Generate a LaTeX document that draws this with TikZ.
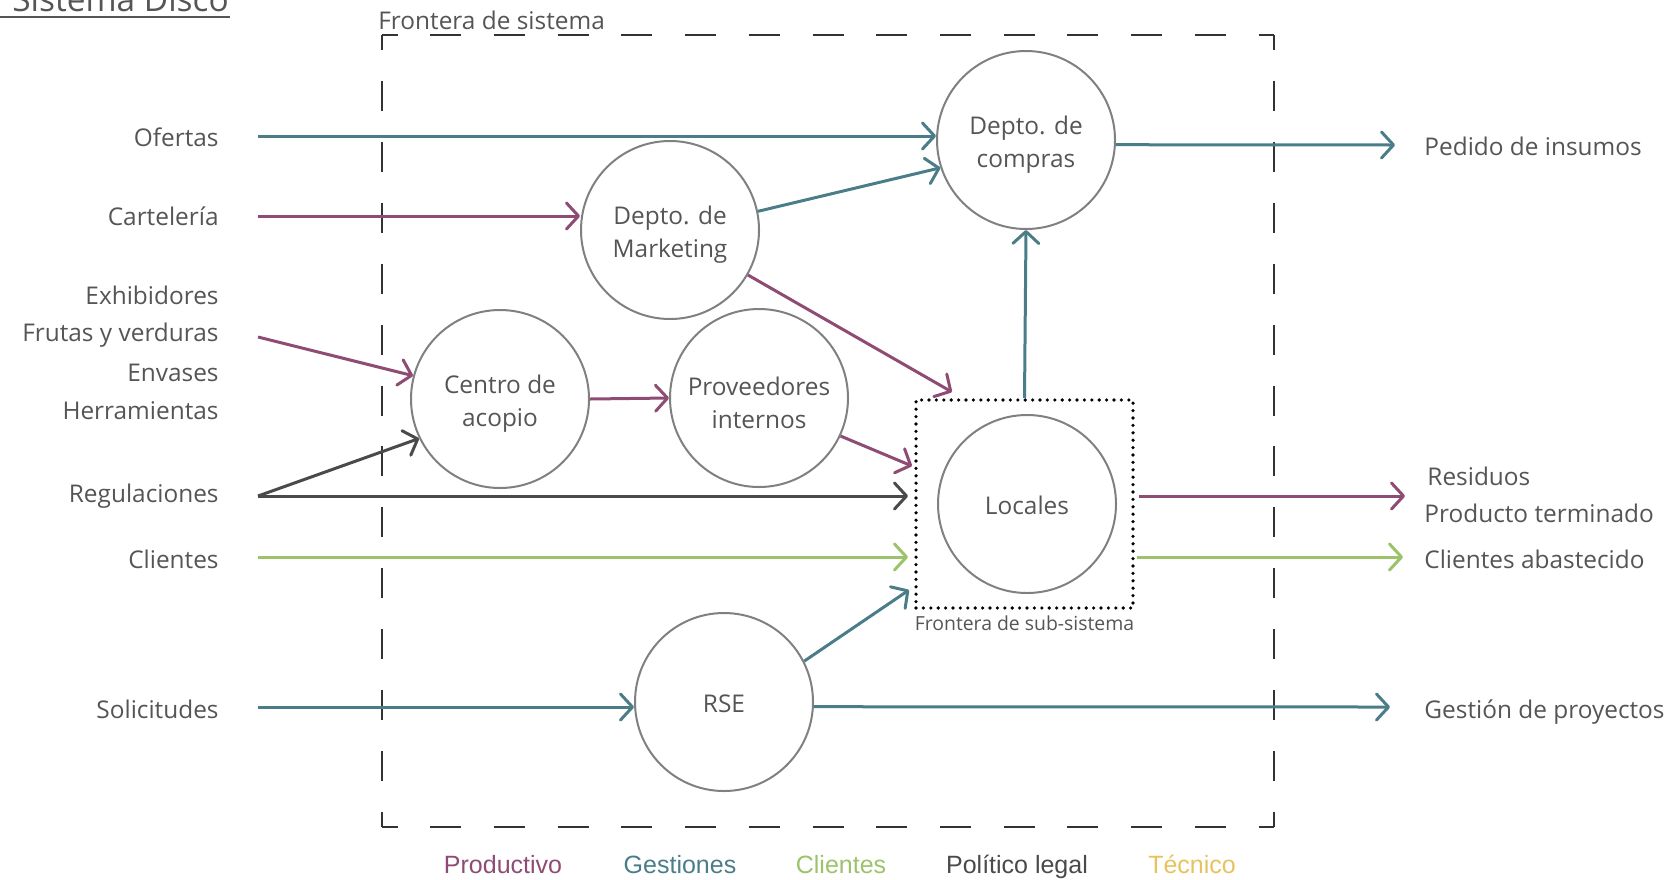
\documentclass[tikz,border=0pt]{standalone}
\usepackage{fontspec}
\setmainfont{Open Sans}
\newfontfamily\legendfont{Liberation Sans}
\usepackage{xcolor}
\usetikzlibrary{arrows.meta, positioning, calc}

\definecolor{prod}{HTML}{8E4C74}
\definecolor{gest}{HTML}{4B7D89}
\definecolor{clien}{HTML}{9CC26B}
\definecolor{polit}{HTML}{4A4A4A}
\definecolor{tecn}{HTML}{E6C35E}
\definecolor{txt}{HTML}{555555}
\definecolor{ring}{HTML}{808080}

\tikzset{
  proc/.style={draw=ring, circle, line width=1pt, minimum size=89pt, align=center,
    text=txt, font=\fontsize{12.2}{16.6}\selectfont, text height=11pt},
  twoline/.style={text height=30.7pt},
  lbl/.style={text=txt, font=\fontsize{12.2}{15}\selectfont, inner sep=0pt},
  leg/.style={font=\legendfont\fontsize{12.5}{15}\selectfont, inner sep=0pt, anchor=base},
  flow/.style={line width=1.5pt, -{Straight Barb[length=6pt,width=13pt,round]}},
  hbound/.style={black!80, line width=0.9pt, dash pattern=on 15.5pt off 16.36pt, dash phase=7.75pt},
  vbound/.style={black!80, line width=0.9pt, dash pattern=on 15pt off 15.46pt, dash phase=7.5pt},
}

\begin{document}
\begin{tikzpicture}[x=0.5pt, y=-0.5pt]
    \useasboundingbox (0,0) rectangle (1679,879);

    % titulo
    \node[lbl, anchor=base west, font=\fontsize{16.7}{20}\selectfont] (titulo) at (12,11) {Sistema Disco};
    \draw[txt, line width=1pt] (0,17) -- (230,17);

    % frontera de sistema
    \coordinate (b-nw) at (382,35);
    \coordinate (b-ne) at (1274,35);
    \coordinate (b-sw) at (382,827);
    \coordinate (b-se) at (1274,827);
    \draw[hbound] (b-nw) -- (b-ne);
    \draw[hbound] (b-sw) -- (b-se);
    \draw[vbound] (b-nw) -- (b-sw);
    \draw[vbound] (b-ne) -- (b-se);
    \node[lbl, anchor=base west] (frontera) at (378,29) {Frontera de sistema};

    % procesos
    \node[proc, twoline] (compras) at (1026,140) {Depto. de\\compras};
    \node[proc, twoline] (mkt) at (670,230) {Depto. de\\Marketing};
    \node[proc, twoline] (acopio) at (500,399) {Centro de\\acopio};
    \node[proc, twoline] (prov) at (759,398) {Proveedores\\internos};
    \node[proc] (locales) at (1027,504) {Locales};
    \node[proc] (rse) at (724,702) {RSE};

    % sub-sistema
    \node[draw=black, line width=1.8pt, line cap=round, dash pattern=on 0pt off 3.7pt,
      minimum width=108.5pt, minimum height=104pt] (sub) at (1024.5,504) {};
    \node[lbl, below=3pt of sub, font=\fontsize{9.7}{12}\selectfont] (subtxt) {Frontera de sub-sistema};

    % entradas
    \node[lbl, anchor=base east] (ofertas) at (219,146) {Ofertas};
    \node[lbl, anchor=base east] (carteleria) at (219,225) {Cartelería};
    \node[lbl, anchor=base east] (exhib) at (219,304) {Exhibidores};
    \node[lbl, anchor=base east] (frutas) at (219,341) {Frutas y verduras};
    \node[lbl, anchor=base east] (envases) at (219,381) {Envases};
    \node[lbl, anchor=base east] (herram) at (219,419) {Herramientas};
    \node[lbl, anchor=base east] (regul) at (219,502) {Regulaciones};
    \node[lbl, anchor=base east] (clientes) at (219,568) {Clientes};
    \node[lbl, anchor=base east] (solic) at (219,718) {Solicitudes};

    % salidas
    \node[lbl, anchor=base west] (pedido) at (1424,155) {Pedido de insumos};
    \node[lbl, anchor=base west] (residuos) at (1427,485) {Residuos};
    \node[lbl, anchor=base west] (producto) at (1424,522) {Producto terminado};
    \node[lbl, anchor=base west] (abast) at (1424,568) {Clientes abastecido};
    \node[lbl, anchor=base west] (gestion) at (1424,718) {Gestión de proyectos};

    % extremos libres
    \coordinate (s-of) at (258,136);
    \coordinate (s-cart) at (258,216);
    \coordinate (s-exh) at (258,337);
    \coordinate (s-reg) at (258,496);
    \coordinate (s-cli) at (258,557);
    \coordinate (s-sol) at (258,707);
    \coordinate (e-mkt) at (952,392);
    \coordinate (e-prov) at (912,466);
    \coordinate (e-reg) at (908,496);
    \coordinate (e-cli) at (908,557);
    \coordinate (e-rse) at (909,590);
    \coordinate (e-ped) at (1395,145);
    \coordinate (e-res) at (1405,496);
    \coordinate (e-abast) at (1403,557);
    \coordinate (e-gest) at (1390,707);

    % flujos
    \draw[flow, gest] (s-of) -- (s-of -| compras.west);
    \draw[flow, gest] (compras.-3) -- (e-ped);
    \draw[flow, prod] (s-cart) -- (s-cart -| mkt.west);
    \draw[flow, gest] (mkt.12) -- (compras.198);
    \draw[flow, prod] (mkt.-30) -- (e-mkt);
    \draw[flow, prod] (s-exh) -- (acopio.165);
    \draw[flow, prod] (acopio.east) -- (prov.west);
    \draw[flow, prod] (prov.-25) -- (e-prov);
    \draw[flow, polit] (s-reg) -- (acopio.206);
    \draw[flow, polit] (s-reg) -- (e-reg);
    \draw[flow, clien] (s-cli) -- (e-cli);
    \draw[flow, prod] ([xshift=2pt]sub.east |- s-reg) -- (e-res);
    \draw[flow, clien] ([xshift=1pt]sub.east |- s-cli) -- (e-abast);
    \draw[flow, gest] (sub.north) -- (compras.south);
    \draw[flow, gest] (s-sol) -- (s-sol -| rse.west);
    \draw[flow, gest] (rse.-3) -- (e-gest);
    \draw[flow, gest] (rse.27) -- (e-rse);

    % leyenda
    \node[leg, text=prod] (l-prod) at (503,873) {Productivo};
    \node[leg, text=gest] (l-gest) at (680,873) {Gestiones};
    \node[leg, text=clien] (l-cli) at (841,873) {Clientes};
    \node[leg, text=polit] (l-pol) at (1017,873) {Político legal};
    \node[leg, text=tecn] (l-tec) at (1192,873) {Técnico};
\end{tikzpicture}
\end{document}
